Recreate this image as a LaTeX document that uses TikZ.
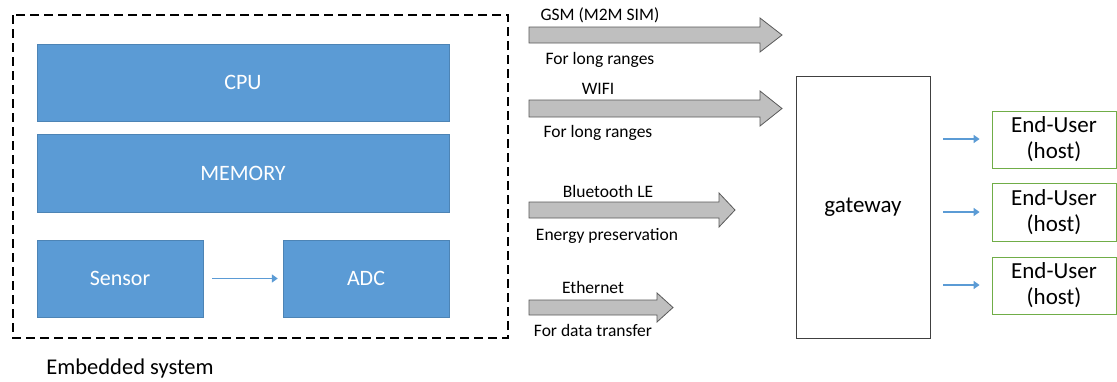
\documentclass[tikz,border=0pt]{standalone}
\usepackage{fontspec}
\setmainfont{Carlito}
\usetikzlibrary{arrows.meta}
\definecolor{blockblue}{HTML}{5B9BD5}
\definecolor{arrgray}{HTML}{BFBFBF}
\definecolor{arrdraw}{HTML}{595959}
\definecolor{hostgreen}{HTML}{70AD47}
\tikzset{
  blockbox/.style={fill=blockblue, draw=blockblue!85!black, line width=0.4pt, text=white, font=\fontsize{22}{26}\selectfont, inner sep=0pt},
  fatarrow/.style={fill=arrgray, draw=arrdraw, line width=0.8pt},
  smalllabel/.style={font=\fontsize{17.5}{20}\selectfont, inner sep=0pt, anchor=center},
  hostbox/.style={draw=hostgreen, line width=0.8pt, align=center, font=\fontsize{23}{26}\selectfont, inner sep=0pt},
  bluearrow/.style={draw=blockblue, line width=2pt, -{Triangle[length=6pt,width=8pt]}},
}
\begin{document}
\begin{tikzpicture}[x=1pt,y=-1pt]
\useasboundingbox (0,0) rectangle (1117,381);
% embedded system
\draw[line width=2.6pt, dash pattern=on 9pt off 5pt] (13,15) rectangle (508,338);
\node[blockbox, minimum width=412pt, minimum height=77pt] (cpu) at (243,82.5) {CPU};
\node[blockbox, minimum width=412pt, minimum height=78pt] (mem) at (243,173) {MEMORY};
\node[blockbox, minimum width=166pt, minimum height=77pt] (sensor) at (120,278.5) {Sensor};
\node[blockbox, minimum width=166pt, minimum height=77pt] (adc) at (366,278.5) {ADC};
\draw[bluearrow, line width=1.5pt] ([xshift=9pt]sensor.east) -- ([xshift=-5pt]adc.west);
\node[font=\fontsize{22.5}{26}\selectfont, inner sep=0pt] (emb) at (130,368) {Embedded system};
% gray arrows
\draw[fatarrow] (529,27) -- (760,27) -- (760,18) -- (782,35) -- (760,52) -- (760,43) -- (529,43) -- cycle;
\draw[fatarrow] (529,100) -- (760,100) -- (760,91) -- (782,108.5) -- (760,126) -- (760,117) -- (529,117) -- cycle;
\draw[fatarrow] (529,202) -- (719,202) -- (719,193) -- (735,210) -- (719,227) -- (719,218) -- (529,218) -- cycle;
\draw[fatarrow] (529,300) -- (657,300) -- (657,293) -- (673,307.5) -- (657,322) -- (657,315) -- (529,315) -- cycle;
\node[smalllabel] (gsm) at (600,15) {GSM (M2M SIM)};
\node[smalllabel] (gsmd) at (600,60) {For long ranges};
\node[smalllabel] (wifi) at (598,89) {WIFI};
\node[smalllabel] (wifid) at (598,133) {For long ranges};
\node[smalllabel] (bt) at (608,191) {Bluetooth LE};
\node[smalllabel] (btd) at (607,236) {Energy preservation};
\node[smalllabel] (eth) at (593,287) {Ethernet};
\node[smalllabel] (ethd) at (593,330) {For data transfer};
% gateway
\node[draw=black!75, line width=0.8pt, minimum width=134pt, minimum height=262pt, font=\fontsize{23}{26}\selectfont] (gw) at (863,207) {gateway};
% hosts
\node[hostbox, minimum width=124pt, minimum height=57pt] (h1) at (1054,139.5) {End-User\\(host)};
\node[hostbox, minimum width=124pt, minimum height=58pt] (h2) at (1054,212) {End-User\\(host)};
\node[hostbox, minimum width=124pt, minimum height=57pt] (h3) at (1054,285.5) {End-User\\(host)};
\coordinate (s1) at (943,139);
\coordinate (s2) at (943,212);
\coordinate (s3) at (943,285);
\draw[bluearrow] (s1) -- ([xshift=-12pt]h1.west |- s1);
\draw[bluearrow] (s2) -- ([xshift=-12pt]h2.west |- s2);
\draw[bluearrow] (s3) -- ([xshift=-12pt]h3.west |- s3);
\end{tikzpicture}
\end{document}
